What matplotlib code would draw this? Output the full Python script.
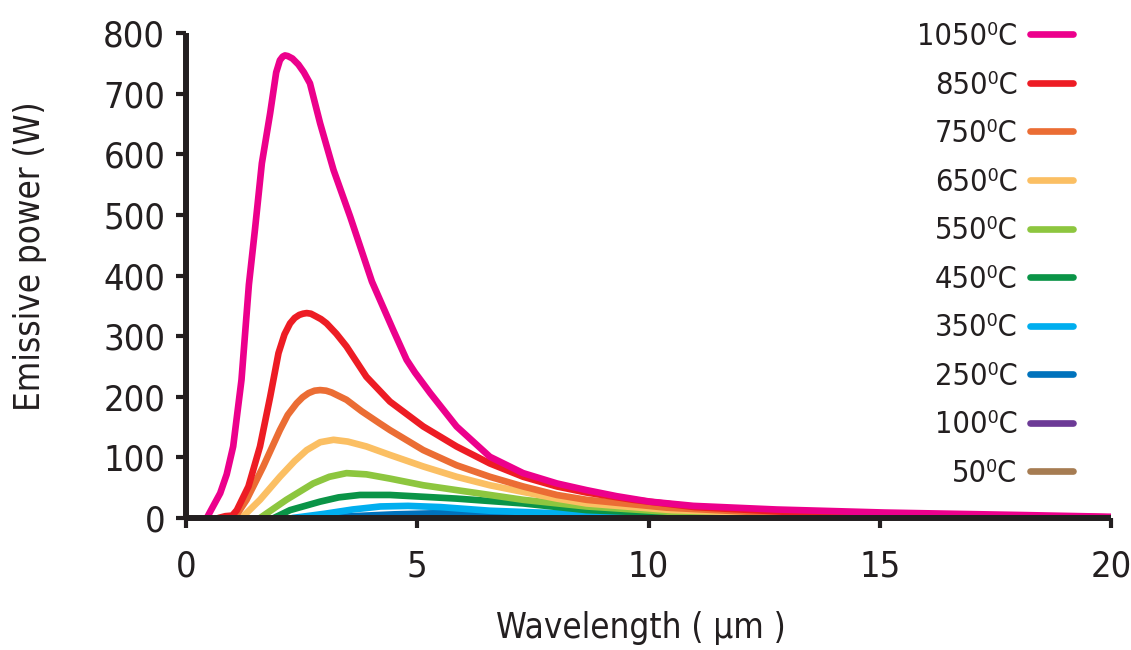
import matplotlib
matplotlib.use("Agg")
import matplotlib.pyplot as plt

plt.rcParams['font.family'] = ['DejaVu Sans']
plt.rcParams['font.stretch'] = 'condensed'

# ---- data ----
labels = ["50⁰C", "100⁰C", "250⁰C", "350⁰C", "450⁰C", "550⁰C",
          "650⁰C", "750⁰C", "850⁰C", "1050⁰C"]
colors = ["#A67C52", "#6C3A96", "#0072BC", "#00AEEF", "#0A9447",
          "#8DC63F", "#FBBF63", "#EB6D34", "#ED1C24", "#EC008C"]

x_50 = [5, 7, 9, 11, 14, 17, 20]
y_50 = [0, 0.4, 0.8, 0.9, 0.8, 0.5, 0.3]

x_100 = [4, 6, 8, 10, 13, 17, 20]
y_100 = [0, 0.8, 1.5, 1.6, 1.3, 0.8, 0.4]

x_250 = [2.8, 3.6, 4.5, 5.5, 6.8, 8.5, 11, 15, 20]
y_250 = [0, 3, 6, 8, 7, 5, 3, 1, 0]

x_350 = [2.3, 3.0, 3.6, 4.2, 4.8, 5.5, 6.57, 8.66, 11, 15, 20]
y_350 = [0, 7, 14, 19, 20, 18, 12, 6, 3, 1, 0]

x_450 = [1.9, 2.25, 2.9, 3.3, 3.76, 4.41, 5.85, 7.29, 8.66, 11, 15, 20]
y_450 = [0, 13, 27, 34, 38, 38, 32, 24, 13, 6, 2, 0]

x_550 = [1.6, 2.17, 2.75, 3.1, 3.47, 3.9, 4.41, 5.13, 5.85, 6.57, 7.29, 8.66, 10.5, 14, 20]
y_550 = [0, 30, 57, 68, 74, 72, 65, 54, 46, 38, 30, 19, 10, 4, 0.5]

x_650 = [1.2, 1.6, 2.03, 2.35, 2.61, 2.9, 3.19, 3.5, 3.9, 4.41, 5.13, 5.85, 6.57, 7.29, 8.02, 8.66, 10.5, 13, 20]
y_650 = [0, 30, 68, 94, 112, 125, 129, 126, 118, 104, 85, 68, 54, 43, 32, 24, 13, 7, 1]

x_750 = [1.05, 1.31, 1.67, 2.03, 2.2, 2.39, 2.52, 2.65, 2.78, 2.9, 3.03, 3.15, 3.47, 3.8, 4.19, 4.41, 5.13, 5.85, 6.57, 7.29, 8.02, 8.66, 10.4, 12.5, 16, 20]
y_750 = [0, 30, 85, 145, 170, 189, 199, 206, 210, 211, 210, 207, 195, 176, 156, 145, 112, 87, 68, 52, 38, 30, 17, 9, 4, 1]

x_850 = [0.7, 0.85, 1.0, 1.1, 1.35, 1.6, 1.82, 2.0, 2.13, 2.25, 2.35, 2.45, 2.53, 2.61, 2.7, 2.8, 2.92, 3.04, 3.25, 3.47, 3.9, 4.41, 5.13, 5.85, 6.57, 7.29, 8.02, 8.66, 9.67, 11.0, 13.0, 16.0, 20.0]
y_850 = [0, 3, 4, 13, 52, 118, 200, 272, 303, 321, 330, 335, 337, 338, 337, 333, 328, 321, 304, 283, 233, 192, 151, 118, 90, 68, 52, 42, 30, 18, 10, 5, 1]

x_1050 = [0.45, 0.52, 0.74, 0.88, 1.02, 1.2, 1.36, 1.49, 1.64, 1.82, 1.95, 2.03, 2.09, 2.14, 2.2, 2.3, 2.43, 2.55, 2.68, 2.9, 3.19, 3.55, 4.02, 4.48, 4.77, 4.95, 5.28, 5.85, 6.57, 7.29, 8.02, 8.66, 9.31, 10.03, 10.97, 12.77, 15.1, 18.0, 20.0]
y_1050 = [0, 10, 41, 72, 118, 228, 385, 475, 585, 668, 735, 755, 761, 763, 762, 758, 748, 735, 717, 651, 574, 497, 390, 310, 261, 240, 206, 151, 101, 74, 57, 46, 36, 27, 20, 14, 9, 5, 2]

xs = [x_50, x_100, x_250, x_350, x_450, x_550, x_650, x_750, x_850, x_1050]
ys = [y_50, y_100, y_250, y_350, y_450, y_550, y_650, y_750, y_850, y_1050]

x_ticks = [0, 5, 10, 15, 20]
y_ticks = [0, 100, 200, 300, 400, 500, 600, 700, 800]

# ---- figure ----
W, H = 1131, 650
fig = plt.figure(figsize=(W / 100, H / 100), dpi=100)
ax = fig.add_axes([186 / W, 1 - 518 / H, (1111 - 186) / W, (518 - 33) / H])

dark = "#231F20"
handles = []
for x, y, c, lab in zip(xs, ys, colors, labels):
    ln, = ax.plot(x, y, color=c, lw=4.8, solid_capstyle='round',
                  solid_joinstyle='round', label=lab)
    handles.append(ln)

ax.set_xlim(0, 20)
ax.set_ylim(0, 800)
ax.set_xticks(x_ticks)
ax.set_yticks(y_ticks)

for s in ['top', 'right']:
    ax.spines[s].set_visible(False)
for s in ['left', 'bottom']:
    ax.spines[s].set_linewidth(4.3)
    ax.spines[s].set_color(dark)
    ax.spines[s].set_capstyle('butt')

ax.tick_params(axis='both', direction='out', length=7, width=3, color=dark,
               labelsize=26, labelcolor=dark)
ax.tick_params(axis='y', pad=8)
ax.tick_params(axis='x', pad=16)

fig.text(30 / W, 1 - 256 / H, "Emissive power (W)", rotation=90,
         ha='center', va='center', fontsize=25, color=dark)
fig.text(641 / W, 1 - 628 / H, "Wavelength ( µm )",
         ha='center', va='center', fontsize=25, color=dark)

leg = fig.legend(handles[::-1], labels[::-1], loc='upper right',
                 bbox_to_anchor=(1073 / W, 1 - 22 / H), frameon=False,
                 markerfirst=False, fontsize=22, handlelength=1.4,
                 handletextpad=0.42, labelspacing=0.64, borderpad=0,
                 borderaxespad=0)
for t in leg.get_texts():
    t.set_color(dark)

fig.savefig("out.png", dpi=100)
